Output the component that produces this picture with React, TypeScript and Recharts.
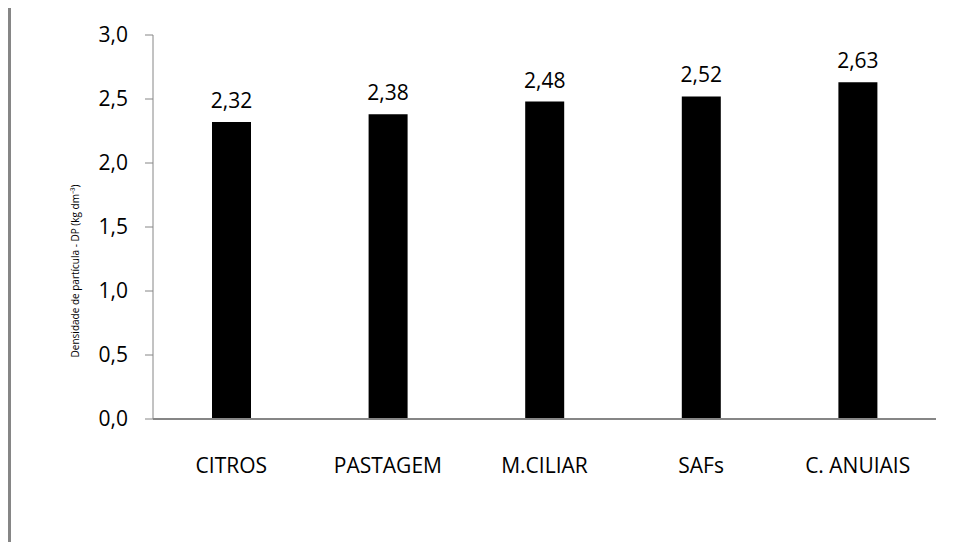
import { Bar, BarChart, LabelList, XAxis, YAxis } from "recharts";

const categories = ["CITROS", "PASTAGEM", "M.CILIAR", "SAFs", "C. ANUIAIS"];
const densidade = [2.32, 2.38, 2.48, 2.52, 2.63];
const yTicks = [0, 0.5, 1, 1.5, 2, 2.5, 3];

const data = categories.map((name, i) => ({ name, dp: densidade[i] }));

const comma = (v: number, digits: number) => Number(v).toFixed(digits).replace(".", ",");

const font = "'Open Sans', sans-serif";
const axisGray = "#868686";

// rotated axis title, sits a bit below the plot's middle like the original
const YTitle = () => (
  <text
    x={68}
    y={263}
    transform="rotate(-90, 68, 263)"
    textAnchor="middle"
    fontSize={10}
    fill="#000"
    fontFamily={font}
  >
    Densidade  de  partícula  - DP (kg dm⁻³)
  </text>
);

export default function App() {
  return (
    <div
      style={{
        width: 944,
        height: 534,
        marginTop: -1,
        borderLeft: `3px solid ${axisGray}`,
        borderTop: `1px solid ${axisGray}`,
        background: "#fff",
        fontFamily: font,
      }}
    >
      <BarChart width={944} height={534} data={data} margin={{ top: 27, right: 19, bottom: 83, left: 0 }}>
        <XAxis
          dataKey="name"
          height={40}
          tickLine={false}
          axisLine={{ stroke: axisGray, strokeWidth: 2 }}
          tickMargin={33}
          tick={{ fontSize: 21, fill: "#000", fontFamily: font }}
          interval={0}
        />
        <YAxis
          width={142}
          domain={[0, 3]}
          ticks={yTicks}
          tickFormatter={(v) => comma(v, 1)}
          tickSize={8}
          tickMargin={17}
          axisLine={{ stroke: axisGray }}
          tickLine={{ stroke: axisGray }}
          tick={{ fontSize: 21, fill: "#000", fontFamily: font }}
        />
        <Bar dataKey="dp" fill="#000" barSize={39} isAnimationActive={false}>
          <LabelList
            dataKey="dp"
            position="top"
            offset={14}
            formatter={(v: number) => comma(v, 2)}
            style={{ fontSize: 21, fill: "#000", fontFamily: font }}
          />
        </Bar>
        <YTitle />
      </BarChart>
    </div>
  );
}
